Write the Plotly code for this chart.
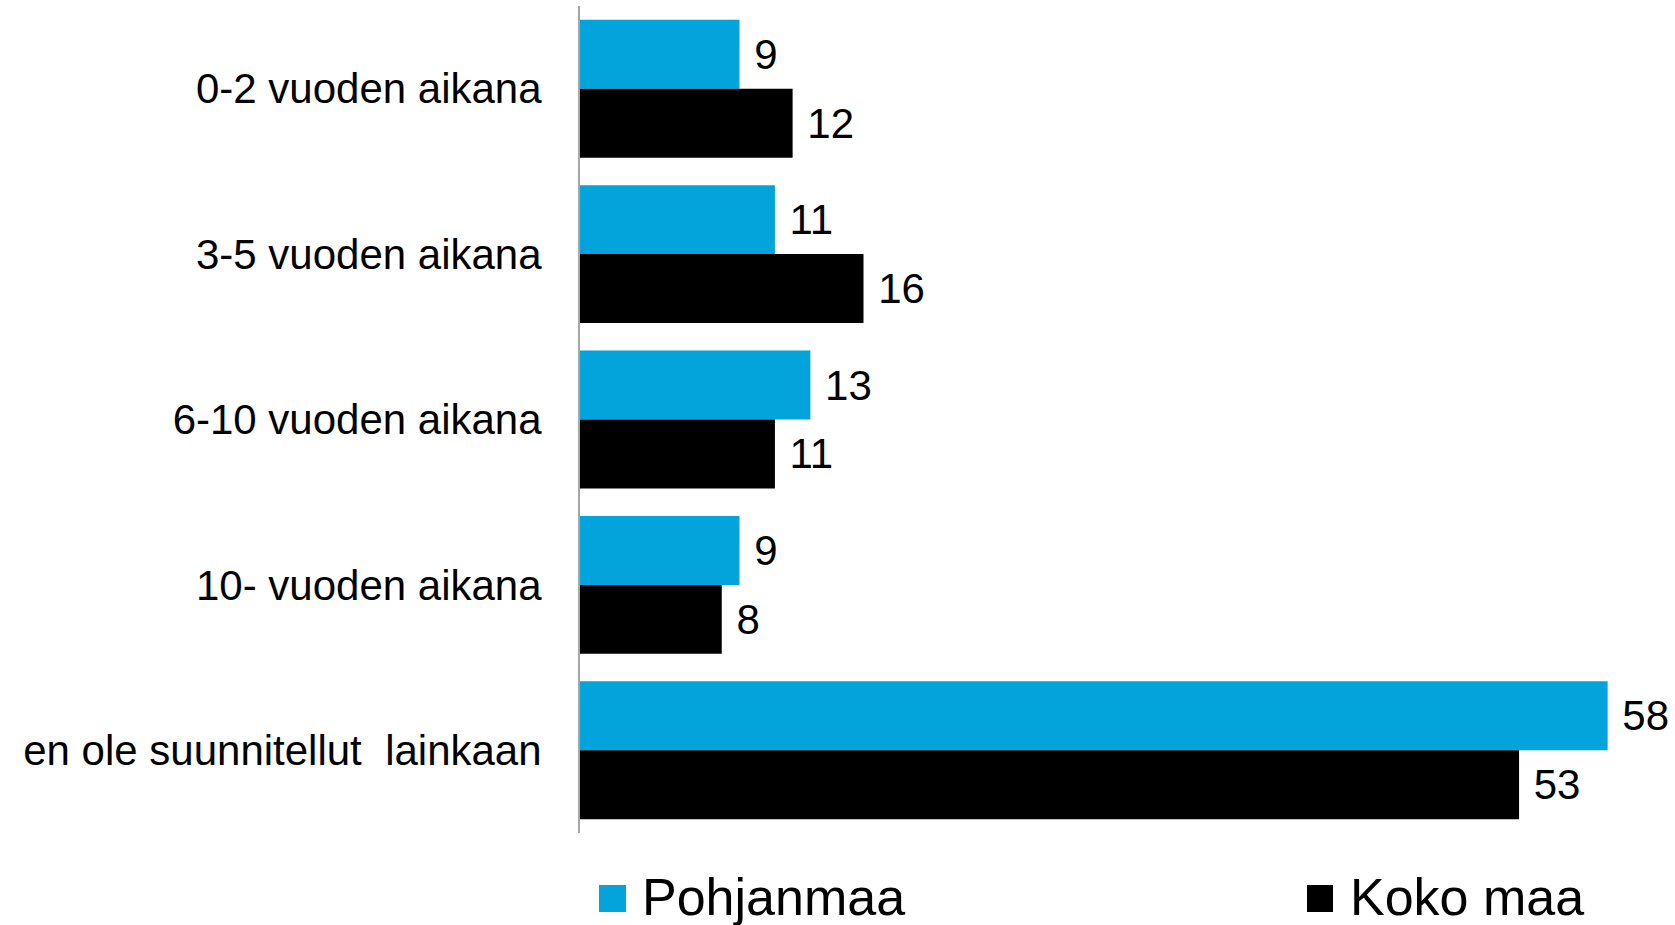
import plotly.graph_objects as go

categories = ["0-2 vuoden aikana", "3-5 vuoden aikana", "6-10 vuoden aikana",
              "10- vuoden aikana", "en ole suunnitellut  lainkaan"]
pohjanmaa = [9, 11, 13, 9, 58]
koko_maa = [12, 16, 11, 8, 53]
series_names = ["Pohjanmaa", "Koko maa"]
colors = ["#02A4DB", "#000000"]

FONT = "Liberation Sans, Arial, sans-serif"
W_PX, H_PX = 1675, 925
M_L, M_R, M_T, M_B = 580, 39, 6, 92
PLOT_W = W_PX - M_L - M_R
PLOT_H = H_PX - M_T - M_B


def px_x(p):
    return (p - M_L) / PLOT_W


def px_y(p):
    return (H_PX - M_B - p) / PLOT_H


fig = go.Figure()
for name, vals, col in zip(series_names, [pohjanmaa, koko_maa], colors):
    fig.add_trace(go.Bar(
        y=categories, x=vals, name=name, orientation="h",
        marker=dict(color=col, line=dict(width=0)),
        text=vals, texttemplate="\u00a0%{x}", textposition="outside",
        textfont=dict(family=FONT, size=42, color="#000000"),
        constraintext="none", cliponaxis=False, showlegend=False,
        hoverinfo="skip",
    ))

shapes = []
annotations = []
legend_items = [(599, 626, 640), (1307, 1333, 1348)]
for (x0, x1, xt), name, col in zip(legend_items, series_names, colors):
    shapes.append(dict(type="rect", xref="paper", yref="paper",
                       x0=px_x(x0), x1=px_x(x1), y0=px_y(912), y1=px_y(885),
                       fillcolor=col, line=dict(width=0)))
    annotations.append(dict(text=name, xref="paper", yref="paper",
                            x=px_x(xt), y=px_y(897), xanchor="left", yanchor="middle",
                            showarrow=False,
                            font=dict(family=FONT, size=52, color="#000000")))

fig.update_layout(
    width=W_PX, height=H_PX,
    margin=dict(l=M_L, r=M_R, t=M_T, b=M_B, pad=0),
    paper_bgcolor="white", plot_bgcolor="white",
    barmode="group", bargap=0.166, bargroupgap=0,
    shapes=shapes, annotations=annotations,
    font=dict(family=FONT, color="#000000"),
)
fig.update_xaxes(range=[0, 59.6], visible=False, showgrid=False, zeroline=False)
fig.update_yaxes(autorange="reversed", showline=True, linecolor="#A6A6A6", linewidth=2,
                 showgrid=False, zeroline=False, ticks="",
                 tickfont=dict(family=FONT, size=42, color="#000000"),
                 ticklabelstandoff=28)

fig.write_html("out.html", config={"displayModeBar": False},
               post_script="document.body.style.margin='0';document.body.style.overflow='hidden';")
